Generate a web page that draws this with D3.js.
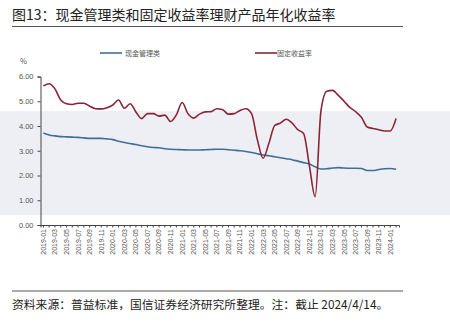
<!DOCTYPE html>
<html><head><meta charset="utf-8">
<script src="https://cdn.jsdelivr.net/npm/d3@7"></script>
<style>
html,body{margin:0;padding:0;background:#fff;}
svg{display:block;font-family:"Noto Sans CJK SC","Noto Sans",sans-serif;}
</style></head>
<body><svg id="c" width="450" height="326"></svg>
<script>
const months = [];
for (let y = 2019; y <= 2024; y++) for (let m = 1; m <= 12; m++) {
  if (y === 2024 && m > 2) break;
  months.push(y + "-" + String(m).padStart(2, "0"));
}
const cashMgmt = [3.72,3.64,3.60,3.57,3.56,3.55,3.54,3.52,3.50,3.50,3.50,3.48,3.45,3.38,3.33,3.29,3.25,3.20,3.16,3.13,3.12,3.08,3.06,3.05,3.04,3.03,3.03,3.03,3.04,3.05,3.06,3.06,3.04,3.02,3.00,2.97,2.93,2.88,2.83,2.80,2.76,2.72,2.68,2.64,2.58,2.52,2.46,2.35,2.26,2.27,2.30,2.32,2.30,2.29,2.29,2.28,2.20,2.20,2.24,2.27,2.28,2.25];
const fixedRate = [5.62,5.71,5.50,5.05,4.90,4.87,4.92,4.92,4.80,4.70,4.69,4.74,4.85,5.05,4.72,4.90,4.57,4.30,4.50,4.50,4.40,4.44,4.18,4.45,4.95,4.50,4.32,4.48,4.57,4.58,4.70,4.66,4.48,4.50,4.63,4.70,4.50,3.45,2.70,3.30,4.02,4.12,4.27,4.12,3.85,3.70,2.40,1.14,4.60,5.40,5.44,5.24,5.00,4.75,4.58,4.35,3.96,3.90,3.85,3.80,3.80,4.30];
const yTicks = [0,1,2,3,4,5,6];
const seriesNames = ["现金管理类","固定收益率"];
const colors = ["#3f6f96","#8a2535"];

const svg = d3.select("#c");
// watermark band
svg.append("rect").attr("x",0).attr("y",111).attr("width",450).attr("height",104).attr("fill","#edeff5");

// title
svg.append("text").attr("x",12).attr("y",20).attr("font-size",14).attr("fill","#222").text("图13：现金管理类和固定收益率理财产品年化收益率");
svg.append("line").attr("x1",12).attr("x2",403).attr("y1",26.5).attr("y2",26.5).attr("stroke","#555").attr("stroke-width",1);

const x = d3.scaleBand().domain(months).range([40.5,399]).padding(0);
const y = d3.scaleLinear().domain([0,6]).range([225,76.5]);
const xc = d => x(d) + x.bandwidth()/2;

// y axis
const ya = svg.append("g").attr("transform","translate(40.5,0)")
  .call(d3.axisLeft(y).tickValues(yTicks).tickFormat(d3.format(".2f")).tickSize(3).tickPadding(4));
ya.select(".domain").attr("stroke","#444");
ya.selectAll(".tick line").attr("stroke","#444");
ya.selectAll("text").attr("font-size",7.5).attr("fill","#555").attr("font-family","Liberation Sans, Arial, sans-serif");

// x axis
const xa = svg.append("g").attr("transform","translate(0,225)")
  .call(d3.axisBottom(x).tickSizeOuter(0).tickSize(2.5).tickFormat((d,i)=> i%2===0 ? d : ""));
xa.select(".domain").attr("stroke","#444");
xa.selectAll(".tick line").attr("stroke","#444");
xa.selectAll("text").attr("font-size",7).attr("fill","#555").attr("font-family","Liberation Sans, Arial, sans-serif")
  .attr("transform","rotate(-90)").attr("text-anchor","end").attr("x",-4).attr("y",0).attr("dy","0.35em");

// "%" label
svg.append("text").attr("x",20).attr("y",64).attr("font-size",7.5).attr("fill","#555").text("%");

const line = d3.line().x((d,i)=>xc(months[i])).y(d=>y(d)).curve(d3.curveMonotoneX);
[cashMgmt, fixedRate].forEach((s,k)=>{
  svg.append("path").datum(s).attr("d",line).attr("fill","none").attr("stroke",colors[k]).attr("stroke-width",1.6);
});

// legend
const lg = [[100,125],[255,277]];
seriesNames.forEach((n,k)=>{
  svg.append("line").attr("x1",lg[k][0]).attr("x2",lg[k][0]+22).attr("y1",53).attr("y2",53).attr("stroke",colors[k]).attr("stroke-width",1.6);
  svg.append("text").attr("x",lg[k][1]).attr("y",55.5).attr("font-size",7).attr("fill","#555").text(n);
});

// footer
svg.append("line").attr("x1",12).attr("x2",403).attr("y1",291).attr("y2",291).attr("stroke","#555").attr("stroke-width",1);
svg.append("text").attr("x",12).attr("y",309).attr("font-size",11.8).attr("fill","#222").text("资料来源：普益标准，国信证券经济研究所整理。注：截止 2024/4/14。");
</script></body></html>
